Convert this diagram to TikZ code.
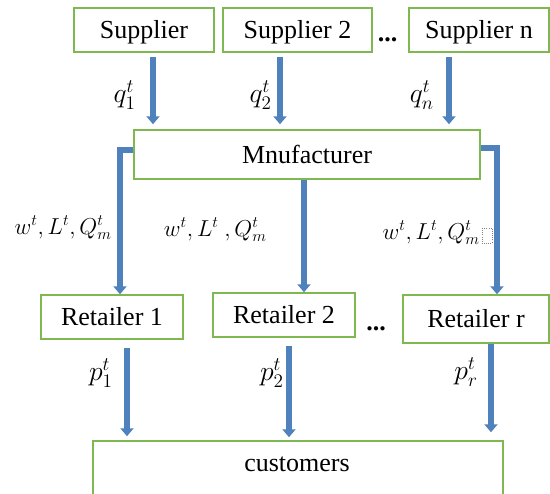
\documentclass[tikz,border=0pt]{standalone}
\usepackage{fontspec}
\setmainfont{Liberation Serif}
\usetikzlibrary{arrows.meta,calc}
\definecolor{boxgreen}{RGB}{125,185,80}
\definecolor{flowblue}{RGB}{79,129,189}
\begin{document}
\begin{tikzpicture}[x=0.75pt,y=-0.75pt,
  box/.style={draw=boxgreen,line width=1.1pt,fill=white,inner sep=0pt,text height=12.9pt,text depth=0pt,font=\fontsize{19.5}{22}\selectfont},
  flow/.style={draw=flowblue,line width=4.5pt,-{Triangle[width=9.75pt,length=6pt]}},
  lab/.style={font=\fontsize{20.5}{22}\selectfont,inner sep=0pt},
  wlab/.style={font=\fontsize{17}{19}\selectfont,inner sep=0pt},
  dots/.style={font=\fontsize{19.5}{22}\selectfont\bfseries,inner sep=0pt,anchor=base},
]
\useasboundingbox (0,0) rectangle (550,493);
\clip (0,0) rectangle (550,493);

% nodes
\node[box,minimum width=105pt,minimum height=33pt] (s1) at (144,30) {Supplier};
\node[box,minimum width=111.75pt,minimum height=33pt] (s2) at (297.5,30) {Supplier 2};
\node[box,minimum width=105pt,minimum height=33pt] (sn) at (479,30) {Supplier n};
\node[dots] (d1) at (387.5,41) {...};

\node[box,minimum width=259.5pt,minimum height=36.75pt] (m) at (307,154.5) {Mnufacturer};

\node[box,minimum width=106.5pt,minimum height=33pt] (r1) at (112,317) {Retailer 1};
\node[box,minimum width=106.5pt,minimum height=33pt] (r2) at (284,315) {Retailer 2};
\node[box,minimum width=109.5pt,minimum height=36pt] (rr) at (476,319) {Retailer r};
\node[dots] (d2) at (376,330) {...};

\node[box,minimum width=307.5pt,minimum height=66.75pt] (c) at (298,485.5) {};
\node[box,draw=none,fill=none,anchor=center] (ctext) at (297,462.5) {customers};

% supplier -> manufacturer
\draw[flow,shorten <=3pt,shorten >=3.75pt] ([xshift=6.75pt]s1.south) -- ([xshift=6.75pt]s1.south |- m.north);
\draw[flow,shorten <=3pt,shorten >=3.75pt] ([xshift=-13.125pt]s2.south) -- ([xshift=-13.125pt]s2.south |- m.north);
\draw[flow,shorten <=3pt,shorten >=3.75pt] ([xshift=-22.5pt]sn.south) -- ([xshift=-22.5pt]sn.south |- m.north);

% manufacturer -> retailers
\draw[flow] ([yshift=3.375pt]m.west) -| ([xshift=6pt]r1.north);
\draw[flow] ([xshift=-2.25pt]m.south) -- ([xshift=-2.25pt]m.south |- r2.north);
\draw[flow] ([yshift=4.875pt]m.east) -| ([xshift=15.75pt]rr.north);

% retailers -> customers
\draw[flow,shorten <=6pt,shorten >=3pt] ([xshift=11.25pt]r1.south) -- ([xshift=11.25pt]r1.south |- c.north);
\draw[flow,shorten <=6pt,shorten >=2.25pt] ([xshift=3.75pt]r2.south) -- ([xshift=3.75pt]r2.south |- c.north);
\draw[flow,shorten >=6pt] ([xshift=11.25pt]rr.south) -- ([xshift=11.25pt]rr.south |- c.north);

% labels
\node[lab,anchor=east] (lq1) at (136,95) {$q_1^t$};
\node[lab,anchor=east] (lq2) at (272,95) {$q_2^t$};
\node[lab,anchor=east] (lqn) at (434,95) {$q_n^t$};

\node[wlab,anchor=east] (lw1) at (112,228) {$w^t, L^t, Q_m^t$};
\node[wlab,anchor=east] (lw2) at (267,230) {$w^t, L^t\ , Q_m^t$};
\node[wlab,anchor=east] (lw3) at (480,233) {$w^t, L^t, Q_m^t$};
\draw[gray,densely dotted,line width=0.6pt] (482,228) rectangle (492,243);

\node[lab,anchor=east] (lp1) at (113,373) {$p_1^t$};
\node[lab,anchor=east] (lp2) at (284,373) {$p_2^t$};
\node[lab,anchor=east] (lpr) at (478,372) {$p_r^t$};
\end{tikzpicture}
\end{document}
